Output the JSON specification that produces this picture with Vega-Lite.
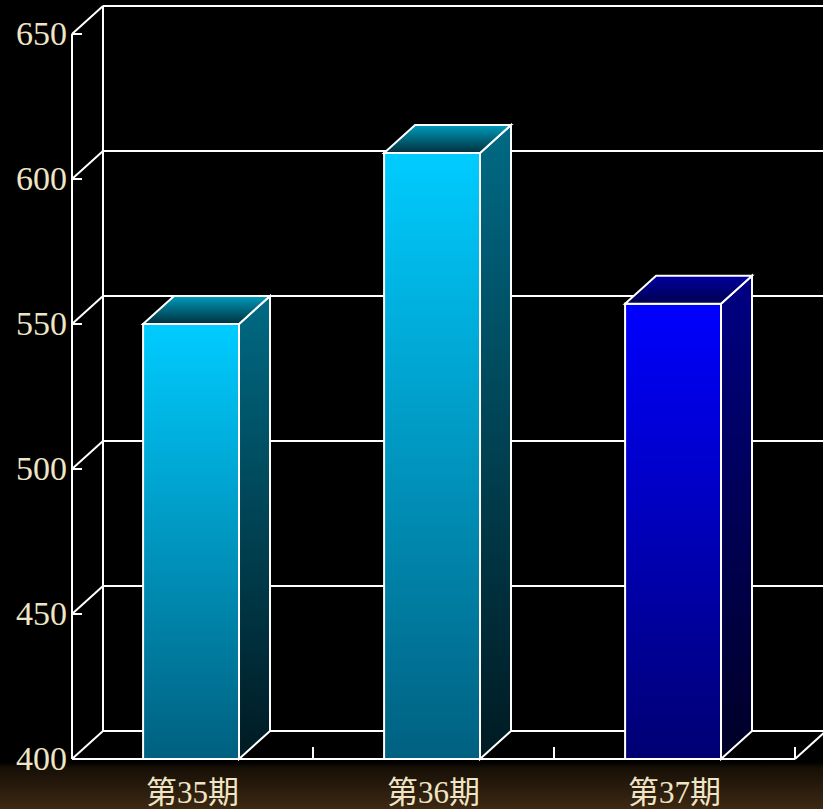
{
  "$schema": "https://vega.github.io/schema/vega-lite/v6.json",
  "width": 751,
  "height": 754,
  "autosize": "none",
  "padding": {"left": 72, "top": 5, "right": 0, "bottom": 50},
  "background": "#000000",
  "config": {"view": {"stroke": null}, "axis": {"title": null, "grid": false}},
  "datasets": {
    "bars": [
      {"period": "第35期", "value": 550},
      {"period": "第36期", "value": 609},
      {"period": "第37期", "value": 557}
    ],
    "ticks": [{"v": 400}, {"v": 450}, {"v": 500}, {"v": 550}, {"v": 600}, {"v": 650}]
  },
  "layer": [
    {
      "data": {"name": "ticks"},
      "transform": [{"calculate": "datum.v + 9.655", "as": "gv"}],
      "mark": {"type": "rule", "stroke": "#FFFFFF", "strokeWidth": 2},
      "encoding": {
        "x": {"datum": 0.1286, "type": "quantitative", "axis": null, "scale": {"domain": [0, 3.11618], "nice": false, "zero": false}},
        "x2": {"datum": 3.14},
        "y": {"field": "gv", "type": "quantitative", "axis": null, "scale": {"domain": [400, 660], "nice": false, "zero": false}}
      }
    },
    {
      "data": {"name": "ticks"},
      "transform": [{"filter": "datum.v == 400"}],
      "mark": {"type": "rect", "opacity": 1, "fill": {"gradient": "linear", "x1": 0, "y1": 0, "x2": 0, "y2": 1, "stops": [{"offset": 0, "color": "#000000"}, {"offset": 0.12, "color": "#170F06"}, {"offset": 1, "color": "#3F2A14"}]}},
      "encoding": {
        "x": {"datum": -0.31, "type": "quantitative", "axis": null},
        "x2": {"datum": 3.2},
        "y": {"datum": 398.9, "type": "quantitative", "axis": null},
        "y2": {"datum": 382}
      }
    },
    {
      "data": {"name": "ticks"},
      "mark": {"type": "text", "font": "Liberation Serif", "fontSize": 34, "color": "#EFE5C5", "align": "right", "baseline": "middle", "dx": -5, "dy": 1},
      "encoding": {
        "x": {"datum": 0, "type": "quantitative", "axis": null},
        "y": {"field": "v", "type": "quantitative", "axis": null},
        "text": {"field": "v", "type": "quantitative"}
      }
    },
    {
      "data": {"name": "ticks"},
      "transform": [{"calculate": "datum.v + 9.655", "as": "gv"}],
      "mark": {"type": "rule", "stroke": "#FFFFFF", "strokeWidth": 2},
      "encoding": {
        "x": {"datum": 0, "type": "quantitative", "axis": null},
        "x2": {"datum": 0.1286},
        "y": {"field": "v", "type": "quantitative", "axis": null},
        "y2": {"field": "gv"}
      }
    },
    {
      "data": {"name": "ticks"},
      "mark": {"type": "rule", "stroke": "#FFFFFF", "strokeWidth": 2},
      "encoding": {
        "x": {"datum": 0, "type": "quantitative", "axis": null},
        "x2": {"datum": 0.0415},
        "y": {"field": "v", "type": "quantitative", "axis": null}
      }
    },
    {
      "data": {"name": "ticks"},
      "transform": [{"filter": "datum.v == 400"}],
      "layer": [
        {
          "mark": {"type": "rule", "stroke": "#FFFFFF", "strokeWidth": 2},
          "encoding": {
            "x": {"datum": 0.1286, "type": "quantitative", "axis": null},
            "y": {"datum": 409.655, "type": "quantitative", "axis": null},
            "y2": {"datum": 659.655}
          }
        },
        {
          "mark": {"type": "rule", "stroke": "#FFFFFF", "strokeWidth": 2},
          "encoding": {
            "x": {"datum": 0, "type": "quantitative", "axis": null},
            "y": {"datum": 400, "type": "quantitative", "axis": null},
            "y2": {"datum": 650}
          }
        },
        {
          "mark": {"type": "rule", "stroke": "#FFFFFF", "strokeWidth": 2},
          "encoding": {
            "x": {"datum": 0, "type": "quantitative", "axis": null},
            "x2": {"datum": 3},
            "y": {"datum": 400, "type": "quantitative", "axis": null}
          }
        },
        {
          "mark": {"type": "rule", "stroke": "#FFFFFF", "strokeWidth": 2},
          "encoding": {
            "x": {"datum": 3, "type": "quantitative", "axis": null},
            "x2": {"datum": 3.1286},
            "y": {"datum": 400, "type": "quantitative", "axis": null},
            "y2": {"datum": 409.655}
          }
        }
      ]
    },
    {
      "data": {"name": "bars"},
      "transform": [
        {"window": [{"op": "row_number", "as": "rn"}]},
        {"calculate": "datum.rn", "as": "b"}
      ],
      "mark": {"type": "rule", "stroke": "#FFFFFF", "strokeWidth": 2},
      "encoding": {
        "x": {"field": "b", "type": "quantitative", "axis": null},
        "y": {"datum": 400, "type": "quantitative", "axis": null},
        "y2": {"datum": 404.14}
      }
    },
    {
      "data": {"name": "bars"},
      "transform": [
        {"window": [{"op": "row_number", "as": "rn"}]},
        {"calculate": "datum.rn - 1", "as": "i"},
        {"calculate": "datum.i + 0.295", "as": "x0"},
        {"calculate": "datum.i + 0.693", "as": "x1"},
        {"calculate": "0", "as": "t0"},
        {"calculate": "1", "as": "t1"}
      ],
      "layer": [
        {
          "transform": [{"filter": "datum.i < 2"}],
          "mark": {"type": "rect", "opacity": 1, "stroke": "#FFFFFF", "strokeWidth": 2,
                   "fill": {"gradient": "linear", "x1": 0, "y1": 0, "x2": 0, "y2": 1, "stops": [{"offset": 0, "color": "#00CCFF"}, {"offset": 1, "color": "#006080"}]}},
          "encoding": {
            "x": {"field": "x0", "type": "quantitative", "axis": null},
            "x2": {"field": "x1"},
            "y": {"field": "value", "type": "quantitative", "axis": null},
            "y2": {"datum": 400}
          }
        },
        {
          "transform": [{"filter": "datum.i == 2"}],
          "mark": {"type": "rect", "opacity": 1, "stroke": "#FFFFFF", "strokeWidth": 2,
                   "fill": {"gradient": "linear", "x1": 0, "y1": 0, "x2": 0, "y2": 1, "stops": [{"offset": 0, "color": "#0000FF"}, {"offset": 1, "color": "#000072"}]}},
          "encoding": {
            "x": {"field": "x0", "type": "quantitative", "axis": null},
            "x2": {"field": "x1"},
            "y": {"field": "value", "type": "quantitative", "axis": null},
            "y2": {"datum": 400}
          }
        },
        {
          "transform": [
            {"filter": "datum.i < 2"},
            {"fold": ["t0", "t1"], "as": ["k", "t"]},
            {"calculate": "datum.x1 + datum.t * 0.1286", "as": "sx"},
            {"calculate": "400 + datum.t * 9.655", "as": "sy"},
            {"calculate": "datum.value + datum.t * 9.655", "as": "sy2"}
          ],
          "mark": {"type": "area", "opacity": 1, "stroke": "#FFFFFF", "strokeWidth": 2,
                   "fill": {"gradient": "linear", "x1": 0, "y1": 0, "x2": 0, "y2": 1, "stops": [{"offset": 0, "color": "#006A84"}, {"offset": 1, "color": "#001A22"}]}},
          "encoding": {
            "x": {"field": "sx", "type": "quantitative", "axis": null},
            "y": {"field": "sy", "type": "quantitative", "axis": null},
            "y2": {"field": "sy2"},
            "detail": {"field": "period"}
          }
        },
        {
          "transform": [
            {"filter": "datum.i == 2"},
            {"fold": ["t0", "t1"], "as": ["k", "t"]},
            {"calculate": "datum.x1 + datum.t * 0.1286", "as": "sx"},
            {"calculate": "400 + datum.t * 9.655", "as": "sy"},
            {"calculate": "datum.value + datum.t * 9.655", "as": "sy2"}
          ],
          "mark": {"type": "area", "opacity": 1, "stroke": "#FFFFFF", "strokeWidth": 2,
                   "fill": {"gradient": "linear", "x1": 0, "y1": 0, "x2": 0, "y2": 1, "stops": [{"offset": 0, "color": "#000084"}, {"offset": 1, "color": "#000026"}]}},
          "encoding": {
            "x": {"field": "sx", "type": "quantitative", "axis": null},
            "y": {"field": "sy", "type": "quantitative", "axis": null},
            "y2": {"field": "sy2"},
            "detail": {"field": "period"}
          }
        },
        {
          "transform": [
            {"filter": "datum.i < 2"},
            {"fold": ["t0", "t1"], "as": ["k", "t"]},
            {"calculate": "datum.x0 + datum.t * 0.1286", "as": "tx0"},
            {"calculate": "datum.x1 + datum.t * 0.1286", "as": "tx1"},
            {"calculate": "datum.value + datum.t * 9.655", "as": "ty"}
          ],
          "mark": {"type": "area", "orient": "horizontal", "opacity": 1, "stroke": "#FFFFFF", "strokeWidth": 2,
                   "fill": {"gradient": "linear", "x1": 0, "y1": 0, "x2": 0, "y2": 1, "stops": [{"offset": 0, "color": "#009CBC"}, {"offset": 1, "color": "#00303E"}]}},
          "encoding": {
            "y": {"field": "ty", "type": "quantitative", "axis": null},
            "x": {"field": "tx0", "type": "quantitative", "axis": null},
            "x2": {"field": "tx1"},
            "detail": {"field": "period"}
          }
        },
        {
          "transform": [
            {"filter": "datum.i == 2"},
            {"fold": ["t0", "t1"], "as": ["k", "t"]},
            {"calculate": "datum.x0 + datum.t * 0.1286", "as": "tx0"},
            {"calculate": "datum.x1 + datum.t * 0.1286", "as": "tx1"},
            {"calculate": "datum.value + datum.t * 9.655", "as": "ty"}
          ],
          "mark": {"type": "area", "orient": "horizontal", "opacity": 1, "stroke": "#FFFFFF", "strokeWidth": 2,
                   "fill": {"gradient": "linear", "x1": 0, "y1": 0, "x2": 0, "y2": 1, "stops": [{"offset": 0, "color": "#0000A0"}, {"offset": 1, "color": "#00004E"}]}},
          "encoding": {
            "y": {"field": "ty", "type": "quantitative", "axis": null},
            "x": {"field": "tx0", "type": "quantitative", "axis": null},
            "x2": {"field": "tx1"},
            "detail": {"field": "period"}
          }
        },
        {
          "transform": [{"calculate": "datum.i + 0.5", "as": "cx"}],
          "mark": {"type": "text", "font": "Liberation Serif, Noto Sans CJK SC", "fontSize": 31, "color": "#EFE5C5", "align": "center", "baseline": "alphabetic", "dy": 44},
          "encoding": {
            "x": {"field": "cx", "type": "quantitative", "axis": null},
            "y": {"datum": 400, "type": "quantitative", "axis": null},
            "text": {"field": "period"}
          }
        }
      ]
    }
  ]
}
